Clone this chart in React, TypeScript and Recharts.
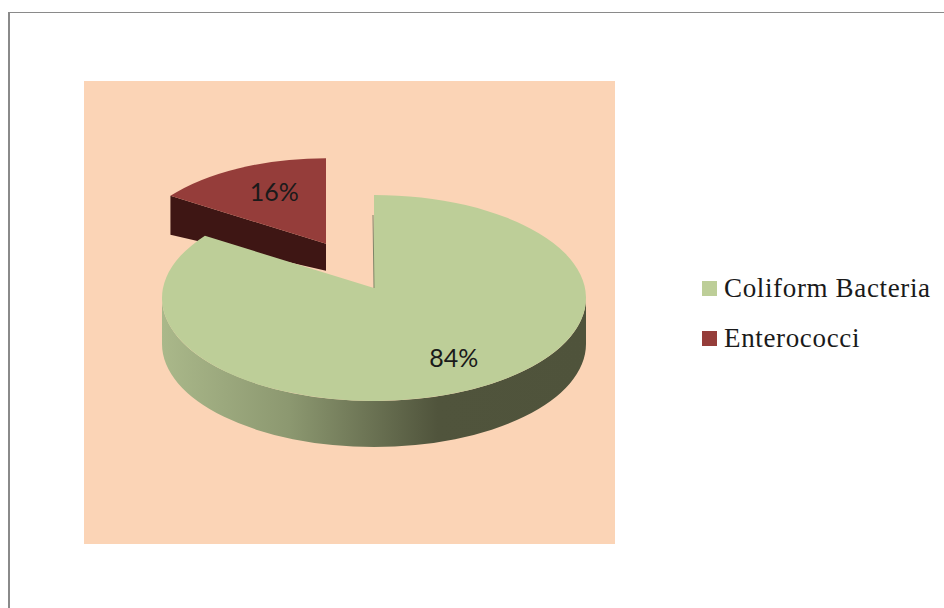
import React from 'react';
import { PieChart, Pie, Legend } from 'recharts';

// Data
const categories = ['Enterococci', 'Coliform Bacteria'];
const shares = [16, 84];
const colors = ['#953d3a', '#bdce98'];

const chartData = categories.map((name, i) => ({ name, value: shares[i], fill: colors[i] }));

const WIDTH = 944;
const HEIGHT = 608;

// Pseudo-3D look: the pie is squashed and given a wall
const CX = 374;
const CY = 298;
const RX = 212;
const RY = 103;
const TIP_LIFT = 10;
const WALL = 46;
const EXPLODED = 'Enterococci';
const EXPLODE_DX = -48;
const EXPLODE_DY = -45;
const EXPLODE_SCALE = 0.92;
const RED_WALL_TIP = 27;
const RED_WALL_EDGE = 39;

const rad = (deg: number) => (deg * Math.PI) / 180;

function rimPoint(cx: number, cy: number, rx: number, ry: number, tipLift: number, deg: number) {
  // ray from the wedge tip through the projected angle, cut with the ellipse rim
  const dx = rx * Math.cos(rad(deg));
  const dy = -ry * Math.sin(rad(deg));
  const a = (dx * dx) / (rx * rx) + (dy * dy) / (ry * ry);
  const b = (2 * -tipLift * dy) / (ry * ry);
  const c = (tipLift * tipLift) / (ry * ry) - 1;
  const s = (-b + Math.sqrt(b * b - 4 * a * c)) / (2 * a);
  return { x: cx + dx * s, y: cy - tipLift + dy * s };
}

function Slice3D(props: any) {
  const { startAngle, endAngle, cx, cy, outerRadius, fill, name } = props;
  const squash = RY / RX;
  if (name === EXPLODED) {
    const rx = outerRadius * EXPLODE_SCALE;
    const ry = rx * squash;
    const lift = TIP_LIFT * EXPLODE_SCALE;
    const ox = cx + EXPLODE_DX;
    const oy = cy + EXPLODE_DY;
    const tipY = oy - lift;
    const p1 = rimPoint(ox, oy, rx, ry, lift, startAngle);
    const p2 = rimPoint(ox, oy, rx, ry, lift, endAngle);
    return (
      <g>
        <path
          d={`M${p1.x},${p1.y} L${ox},${tipY} L${ox},${tipY + RED_WALL_TIP} L${p1.x},${p1.y + RED_WALL_EDGE} Z`}
          fill="#3e1614"
        />
        <path d={`M${ox},${tipY} L${p1.x},${p1.y} A${rx},${ry} 0 0 1 ${p2.x},${p2.y} Z`} fill={fill} />
      </g>
    );
  }
  const rx = outerRadius;
  const ry = rx * squash;
  const tipY = cy - TIP_LIFT;
  const p1 = rimPoint(cx, cy, rx, ry, TIP_LIFT, startAngle);
  const p2 = rimPoint(cx, cy, rx, ry, TIP_LIFT, endAngle);
  return (
    <g>
      <defs>
        <linearGradient id="wallGrad" x1="0" y1="0" x2="1" y2="0">
          <stop offset="0" stopColor="#aab88a" />
          <stop offset="0.3" stopColor="#8c9870" />
          <stop offset="0.65" stopColor="#50543c" />
          <stop offset="1" stopColor="#4f533b" />
        </linearGradient>
      </defs>
      <path
        d={`M${cx - rx},${cy} A${rx},${ry} 0 0 0 ${cx + rx},${cy} L${cx + rx},${cy + WALL} A${rx},${ry} 0 0 1 ${cx - rx},${cy + WALL} Z`}
        fill="url(#wallGrad)"
      />
      <path
        d={`M${cx},${tipY} L${p1.x},${p1.y} A${rx},${ry} 0 1 1 ${p2.x},${p2.y} Z`}
        fill={fill}
      />
      <line x1={cx - 1} y1={p1.y + 20} x2={cx} y2={tipY} stroke="#7d8568" strokeWidth={1} />
    </g>
  );
}

function sliceLabel(props: any) {
  const { cx, cy, midAngle, outerRadius, percent, name } = props;
  const squash = RY / RX;
  const exploded = name === EXPLODED;
  const scale = exploded ? EXPLODE_SCALE : 1;
  const reachX = exploded ? 0.55 : 0.78;
  const reachY = exploded ? 0.64 : 0.76;
  const lift = TIP_LIFT * scale;
  const x = cx + (exploded ? EXPLODE_DX : 0) + outerRadius * scale * reachX * Math.cos(rad(midAngle));
  const y =
    cy +
    (exploded ? EXPLODE_DY : 0) -
    lift -
    outerRadius * scale * squash * reachY * Math.sin(rad(midAngle));
  return (
    <text
      x={x}
      y={y}
      textAnchor="middle"
      dominantBaseline="central"
      fontFamily="Lato, sans-serif"
      fontSize={25}
      fill="#1a1a1a"
    >
      {`${Math.round(percent * 100)}%`}
    </text>
  );
}

function LegendList({ payload }: any) {
  return (
    <div>
      {(payload || []).map((item: any) => (
        <div key={item.value} style={{ display: 'flex', alignItems: 'center', height: 50 }}>
          <span style={{ width: 15, height: 15, background: item.color, marginRight: 7 }} />
          <span
            style={{
              fontFamily: '"Liberation Serif", serif',
              fontSize: 27,
              letterSpacing: 0.65,
              color: '#1a1a1a',
              whiteSpace: 'nowrap',
            }}
          >
            {item.value}
          </span>
        </div>
      ))}
    </div>
  );
}

export default function App() {
  const startAngle = 90 + (360 * shares[0]) / 100;
  return (
    <div style={{ position: 'absolute', left: 0, top: 0, width: WIDTH, height: HEIGHT, background: '#fff', overflow: 'hidden' }}>
      <div
        style={{
          position: 'absolute',
          left: 8,
          top: 12,
          width: WIDTH,
          height: HEIGHT,
          borderTop: '1px solid #8a8a8a',
          borderLeft: '2px solid #8a8a8a',
        }}
      />
      <div style={{ position: 'absolute', left: 84, top: 81, width: 531, height: 463, background: '#fbd4b6' }} />
      <div style={{ position: 'absolute', left: 0, top: 0 }}>
        <PieChart width={WIDTH} height={HEIGHT} margin={{ top: 0, right: 0, bottom: 0, left: 0 }}>
          <Pie
            data={chartData}
            dataKey="value"
            nameKey="name"
            cx={CX}
            cy={CY}
            outerRadius={RX}
            startAngle={startAngle}
            endAngle={startAngle - 360}
            stroke="none"
            shape={Slice3D}
            label={sliceLabel}
            labelLine={false}
            isAnimationActive={false}
          />
          <Legend
            layout="vertical"
            content={LegendList}
            wrapperStyle={{ position: 'absolute', left: 702, top: 263, width: 240 }}
          />
        </PieChart>
      </div>
    </div>
  );
}
